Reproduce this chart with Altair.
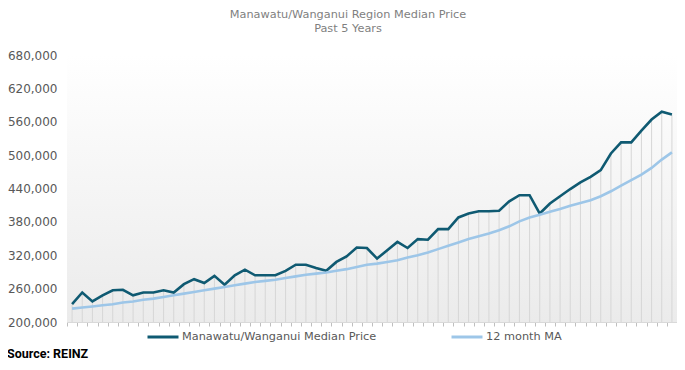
import altair as alt
import pandas as pd

months = list(range(60))
median_price = [232000, 253000, 237000, 248000, 257000, 258000, 248000, 253000, 253000, 257000,
                253000, 268000, 277000, 270000, 283000, 267000, 284000, 294000, 284000, 284000,
                284000, 292000, 303000, 303000, 297000, 292000, 308000, 318000, 334000, 333000,
                314000, 329000, 344000, 333000, 349000, 348000, 367000, 367000, 388000, 395000,
                399000, 399000, 400000, 417000, 428000, 428000, 395000, 413000, 426000, 439000,
                451000, 461000, 473000, 503000, 523000, 523000, 544000, 564000, 578000, 573000]
ma_12 = [224000, 226000, 228000, 230000, 232000, 235000, 237000, 240000, 242000, 245000,
         248000, 251000, 254000, 257000, 260000, 263000, 266000, 269000, 272000, 274000,
         276000, 279000, 282000, 285000, 287000, 289000, 292000, 295000, 299000, 303000,
         305000, 308000, 311000, 316000, 320000, 325000, 331000, 337000, 343000, 349000,
         354000, 359000, 365000, 372000, 381000, 388000, 393000, 398000, 403000, 409000,
         414000, 419000, 426000, 435000, 445000, 455000, 465000, 477000, 492000, 505000]
series_names = ["Manawatu/Wanganui Median Price", "12 month MA"]
series_colors = ["#0f5a72", "#9dc6e8"]
y_ticks = [200000, 260000, 320000, 380000, 440000, 500000, 560000, 620000, 680000]
title_lines = ["Manawatu/Wanganui Region Median Price", "Past 5 Years"]
source_text = "Source: REINZ"

W, H = 610, 267
FONT = "DejaVu Sans"

wide = pd.DataFrame({"m": months, "price": median_price, "ma": ma_12})
long = pd.concat([
    pd.DataFrame({"m": months, "v": median_price, "s": series_names[0]}),
    pd.DataFrame({"m": months, "v": ma_12, "s": series_names[1]}),
])

x_scale = alt.Scale(domain=[-0.5, 59.5], nice=False, zero=False)
y_scale = alt.Scale(domain=[200000, 680000], nice=False, zero=False)

x_axis = alt.Axis(values=[i - 0.5 for i in range(61)], labels=False, title=None, grid=False,
                  domainColor="#d9d9d9", tickColor="#bfbfbf", tickSize=4)
y_axis = alt.Axis(values=y_ticks, labelExpr="format(datum.value, ',')", title=None, grid=False,
                  domain=False, ticks=False,
                  labelPadding=10, labelFontSize=12, labelColor="#595959", labelFont=FONT)

bg = alt.Chart(pd.DataFrame({"a": [0]})).mark_rect(
    fill=alt.Gradient(gradient="linear", x1=0, x2=0, y1=0, y2=1,
                      stops=[alt.GradientStop(offset=0, color="#ffffff"),
                             alt.GradientStop(offset=1, color="#ebebeb")])
).encode(x=alt.value(0), x2=alt.value(W), y=alt.value(0), y2=alt.value(H))

drops = alt.Chart(wide).mark_rule(color="#d6d6d6", strokeWidth=1).encode(
    x=alt.X("m:Q", scale=x_scale, axis=x_axis),
    y=alt.Y("price:Q", scale=y_scale, axis=y_axis),
    y2=alt.datum(200000),
)

lines = alt.Chart(long).mark_line(strokeWidth=2.6).encode(
    x=alt.X("m:Q", scale=x_scale, axis=x_axis),
    y=alt.Y("v:Q", scale=y_scale, axis=y_axis),
    color=alt.Color("s:N", sort=series_names,
                    scale=alt.Scale(domain=series_names, range=series_colors),
                    legend=alt.Legend(title=None, orient="none", direction="horizontal",
                                      legendX=79, legendY=265, symbolType="stroke",
                                      symbolSize=961, symbolStrokeWidth=3, labelOffset=2,
                                      columnPadding=68, labelLimit=400, labelFontSize=11.3,
                                      labelColor="#595959", labelFont=FONT)),
    order=alt.Order("m:Q"),
)

title1 = alt.Chart(pd.DataFrame({"t": [title_lines[0]]})).mark_text(
    fontSize=11.3, color="#7f7f7f", font=FONT, align="center", baseline="middle"
).encode(x=alt.value(281), y=alt.value(-40), text="t:N")
title2 = alt.Chart(pd.DataFrame({"t": [title_lines[1]]})).mark_text(
    fontSize=11.3, color="#7f7f7f", font=FONT, align="center", baseline="middle"
).encode(x=alt.value(281), y=alt.value(-26), text="t:N")

source = alt.Chart(pd.DataFrame({"t": [source_text]})).mark_text(
    fontSize=12.5, fontWeight="bold", color="#000000", font="Roboto", align="left", baseline="middle"
).encode(x=alt.value(-60), y=alt.value(299), text="t:N")

chart = alt.layer(bg, drops, lines, title1, title2, source).properties(
    width=W, height=H,
    autosize=alt.AutoSizeParams(type="none"),
    padding={"left": 59, "top": 47, "right": 0, "bottom": 47},
).configure_view(stroke=None)

chart.save("out.html", embed_options={"renderer": "svg", "actions": False})
